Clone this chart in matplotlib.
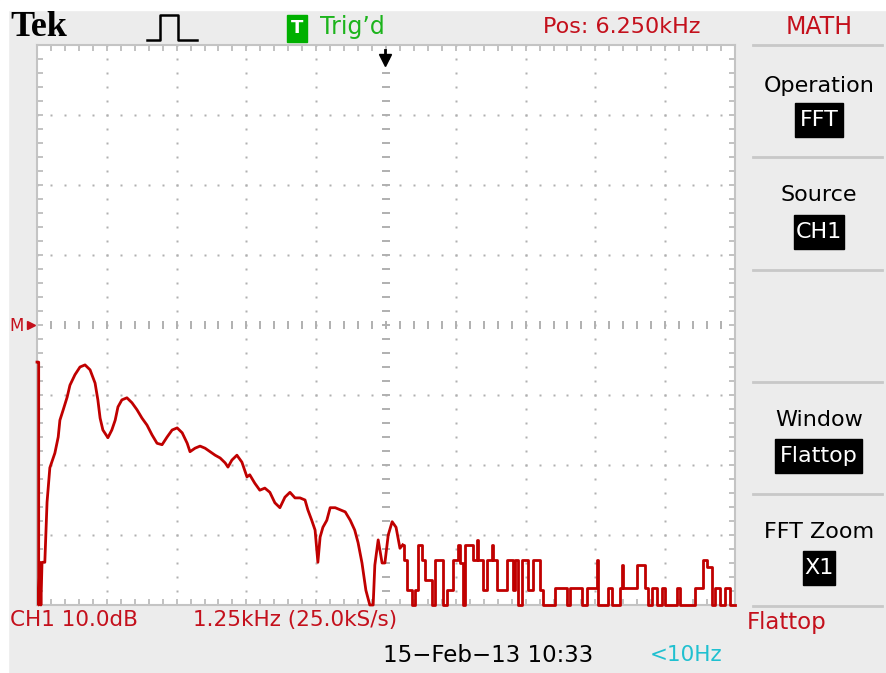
import numpy as np
import matplotlib
matplotlib.use("Agg")
import matplotlib.pyplot as plt
from matplotlib.lines import Line2D
from matplotlib.patches import Rectangle

# FFT trace (kHz, dB; marker level = 0 dB, 10 dB/div)
sig_khz = [0.00, 0.03, 0.03, 0.05, 0.07, 0.09, 0.14, 0.18, 0.23, 0.32, 0.38, 0.41, 0.47,
           0.54, 0.59, 0.68, 0.77, 0.86, 0.95, 1.04, 1.09, 1.13, 1.18, 1.27, 1.34, 1.40,
           1.45, 1.52, 1.61, 1.70, 1.79, 1.88, 1.97, 2.06, 2.15, 2.24, 2.33, 2.42, 2.51,
           2.60, 2.69, 2.74, 2.83, 2.92, 3.01, 3.10, 3.19, 3.28, 3.37, 3.42, 3.49, 3.58,
           3.67, 3.76, 3.81, 3.90, 3.99, 4.08, 4.17, 4.26, 4.35, 4.44, 4.53, 4.62, 4.71,
           4.80, 4.85, 4.92, 4.98, 5.03, 5.07, 5.12, 5.19, 5.25, 5.34, 5.43, 5.52, 5.61,
           5.69, 5.75, 5.82, 5.89, 5.96, 6.02, 6.05, 6.11, 6.18, 6.23, 6.29, 6.36, 6.43,
           6.50, 6.55]
sig_db = [-5.3, -5.3, -40, -33.9, -40, -33.9, -33.9, -25.3, -20.4, -18.3, -16.0, -13.6, -12.1,
          -10.3, -8.6, -7.1, -6.0, -5.7, -6.4, -8.3, -10.7, -13.3, -15.0, -16.1, -15.0, -13.6,
          -11.7, -10.7, -10.4, -11.1, -12.1, -13.3, -14.3, -15.7, -16.9, -17.1, -16.0, -15.0, -14.7,
          -15.4, -16.9, -18.1, -17.6, -17.3, -17.6, -18.1, -18.6, -19.0, -19.7, -20.3, -19.3, -18.6,
          -19.6, -21.7, -21.4, -22.6, -23.6, -23.3, -23.9, -25.4, -26.1, -24.6, -23.9, -24.7, -24.7,
          -25.0, -26.4, -27.9, -29.3, -33.9, -30.3, -28.9, -27.9, -26.1, -26.1, -26.4, -26.7, -27.9,
          -29.3, -31.1, -34.0, -37.9, -40, -40, -34.3, -30.7, -34.0, -34.0, -30.0, -28.1, -28.9,
          -31.9, -31.4]

# noise floor, drawn as steps
noise_khz = [6.55, 6.58, 6.63, 6.72, 6.77, 6.82, 6.89, 6.95, 7.07, 7.13, 7.27, 7.34, 7.45,
             7.54, 7.58, 7.63, 7.66, 7.81, 7.88, 7.90, 7.99, 8.06, 8.15, 8.17, 8.24, 8.42,
             8.52, 8.56, 8.61, 8.69, 8.79, 8.88, 9.01, 9.06, 9.28, 9.49, 9.55, 9.76, 9.85,
             10.03, 10.05, 10.23, 10.30, 10.44, 10.48, 10.49, 10.75, 10.89, 10.94, 11.01,
             11.10, 11.19, 11.25, 11.46, 11.52, 11.78, 11.93, 12.00, 12.09, 12.14, 12.23,
             12.32, 12.41, 12.50]
noise_db = [-31.4, -33.6, -37.9, -40, -37.9, -31.4, -33.6, -36.4, -40, -33.6, -40, -37.9, -33.6,
            -31.4, -34.0, -40, -31.4, -33.6, -30.7, -33.6, -37.9, -33.6, -31.4, -33.6, -37.9, -33.6,
            -37.9, -33.6, -40, -33.6, -37.9, -33.6, -37.9, -40, -37.6, -40, -37.6, -40, -37.6,
            -33.6, -40, -37.6, -40, -37.6, -34.3, -37.6, -34.3, -37.6, -40, -37.6,
            -40, -37.6, -40, -37.6, -40, -37.6, -33.6, -34.6, -40, -37.6, -40,
            -37.6, -40, -40]

menu_titles = ["Operation", "Source", "Window", "FFT Zoom"]
menu_values = ["FFT", "CH1", "Flattop", "X1"]

W, H = 887, 673
RED = "#c4101c"
TRACE = "#c00000"
GRAY = "#ececec"


def px(x, y):
    return x / W, 1 - y / H


fig = plt.figure(figsize=(W / 100, H / 100), dpi=100, facecolor=GRAY)
# white margins of the screenshot
fig.add_artist(Rectangle((0, 0), 8 / W, 1, transform=fig.transFigure, color="white", zorder=0))
fig.add_artist(Rectangle((0, 1 - 10 / H), 1, 10 / H, transform=fig.transFigure, color="white", zorder=0))

ax = fig.add_axes([37 / W, 1 - 605 / H, 698 / W, 560 / H])
ax.set_facecolor("white")
ax.set_xlim(0, 12.5)
ax.set_ylim(-40, 40)
for s in ax.spines.values():
    s.set_color("#c4c4c4")
    s.set_linewidth(1.5)
ax.xaxis.set_major_locator(plt.MultipleLocator(0.25))
ax.yaxis.set_major_locator(plt.MultipleLocator(2))
ax.tick_params(direction="in", length=4, width=1.2, color="#b8b8b8", top=True, right=True,
               labelbottom=False, labelleft=False)

# graticule dots
dot = dict(ls="none", marker="s", ms=1.6, color="#b0b0b0", mec="none", zorder=1)
ys = np.arange(-40, 40.1, 2)
xs = np.arange(0, 12.51, 0.25)
for k in range(1, 10):
    if k != 5:
        ax.plot(np.full_like(ys, 1.25 * k), ys, **dot)
for k in range(-3, 4):
    if k != 0:
        ax.plot(xs, np.full_like(xs, 10 * k), **dot)
ax.plot(np.full_like(ys, 6.25), ys, ls="none", marker="_", ms=6, mew=1.4, color="#b0b0b0", zorder=1)
ax.plot(xs, np.zeros_like(xs), ls="none", marker="|", ms=6, mew=1.4, color="#b0b0b0", zorder=1)

# trace
ax.plot(sig_khz, sig_db, color=TRACE, lw=2, clip_on=False, zorder=3)
ax.step(noise_khz, noise_db, where="post", color=TRACE, lw=2, clip_on=False, zorder=3)

# trigger position arrow
fig.add_artist(Line2D([385 / W, 385 / W], [1 - 50 / H, 1 - 60 / H], transform=fig.transFigure,
                      color="black", lw=2))
fig.add_artist(Line2D([385 / W], [1 - 60 / H], transform=fig.transFigure, marker="v", ms=8,
                      color="black", ls="none"))

# M marker
fig.text(*px(9, 326), "M", color=RED, fontsize=12, ha="left", va="center", zorder=5)
fig.add_artist(Line2D([31 / W], [1 - 325 / H], transform=fig.transFigure, marker=">", ms=6,
                      color=RED, ls="none"))

# top status line
fig.text(*px(10, 28), "Tek", family="Liberation Serif", fontweight="bold", fontsize=26,
         ha="left", va="center", color="black")
pulse_x = [147, 160, 160, 178, 178, 197]
pulse_y = [40, 40, 15, 15, 40, 40]
fig.add_artist(Line2D([x / W for x in pulse_x], [1 - y / H for y in pulse_y],
                      transform=fig.transFigure, color="black", lw=1.8))
fig.add_artist(Rectangle(px(287, 42), 20 / W, 27 / H, transform=fig.transFigure, color="#00b000"))
fig.text(*px(297, 28), "T", color="white", fontsize=13, ha="center", va="center", fontweight="bold")
fig.text(*px(320, 27), "Trig\u2019d", color="#1cb41c", fontsize=17, ha="left", va="center")
fig.text(*px(543, 27), "Pos: 6.250kHz", color=RED, fontsize=16, ha="left", va="center")
fig.text(*px(819, 27), "MATH", color=RED, fontsize=17, ha="center", va="center")

# bottom status lines
fig.text(*px(10, 620), "CH1 10.0dB", color=RED, fontsize=15.5, ha="left", va="center")
fig.text(*px(193, 620), "1.25kHz (25.0kS/s)", color=RED, fontsize=15.5, ha="left", va="center")
fig.text(*px(747, 623), "Flattop", color=RED, fontsize=16.5, ha="left", va="center")
fig.text(*px(383, 655), "15\u2212Feb\u221213 10:33", color="black", fontsize=16.5, ha="left", va="center")
fig.text(*px(650, 655), "<10Hz", color="#20c0d0", fontsize=15.5, ha="left", va="center")

# right menu
for y in [45, 157, 270, 382, 494, 606]:
    fig.add_artist(Line2D([753 / W, 882 / W], [1 - y / H, 1 - y / H], transform=fig.transFigure,
                          color="#c8c8c8", lw=2))
title_y = [86, 195, 420, 532]
value_y = [120, 232, 456, 568]
value_w = [48, 50, 87, 32]
for t, v, ty, vy, vw in zip(menu_titles, menu_values, title_y, value_y, value_w):
    fig.text(*px(819, ty), t, color="black", fontsize=16, ha="center", va="center")
    fig.add_artist(Rectangle(px(819 - vw / 2, vy + 17), vw / W, 34 / H, transform=fig.transFigure,
                             color="black"))
    fig.text(*px(819, vy), v, color="white", fontsize=16, ha="center", va="center")

fig.savefig("out.png", dpi=100, facecolor=GRAY)
